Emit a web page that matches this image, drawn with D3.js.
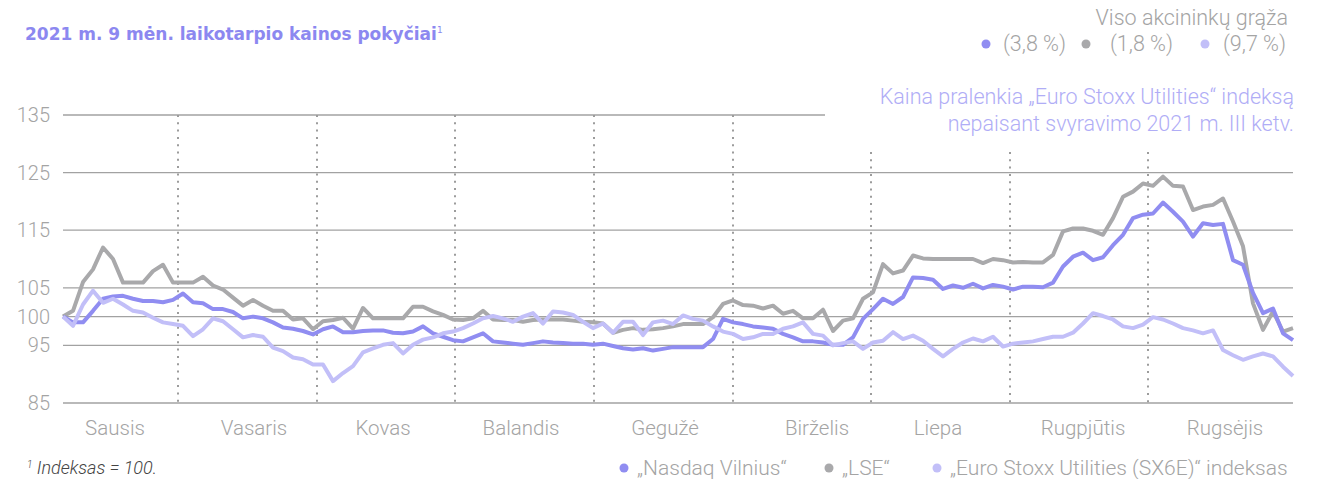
<!DOCTYPE html>
<html>
<head>
<meta charset="utf-8">
<script src="https://cdn.jsdelivr.net/npm/d3@7"></script>
<style>
  body { margin: 0; background: #fff; }
  text { font-family: Roboto, "Liberation Sans", sans-serif; }
</style>
</head>
<body>
<svg></svg>
<script>
margin = ({top: 115, right: 26, bottom: 76, left: 63})

var width = 1319
var height = 479

// index values (start = 100), one point every few trading days
const nasdaq = [
  100, 99, 99, 101, 103.1, 103.5, 103.6, 103.1, 102.7, 102.7,
  102.5, 102.9, 104, 102.5, 102.3, 101.3, 101.3, 100.8, 99.7, 100,
  99.7, 99, 98.1, 97.9, 97.5, 96.9, 97.8, 98.3, 97.3, 97.3,
  97.5, 97.6, 97.6, 97.2, 97.1, 97.4, 98.3, 97.1, 96.5, 95.9,
  95.7, 96.4, 97.1, 95.7, 95.5, 95.3, 95.1, 95.4, 95.7, 95.5,
  95.4, 95.3, 95.3, 95.1, 95.3, 94.9, 94.5, 94.3, 94.5, 94.1,
  94.4, 94.7, 94.7, 94.7, 94.7, 96.1, 99.6, 99, 98.7, 98.3,
  98.1, 97.9, 97, 96.4, 95.7, 95.7, 95.5, 95.1, 95.1, 96.4,
  99.6, 101.3, 103.1, 102.2, 103.4, 106.8, 106.7, 106.4, 104.8, 105.4,
  105, 105.7, 104.9, 105.5, 105.2, 104.7, 105.2, 105.2, 105.1, 105.9,
  108.7, 110.4, 111.1, 109.8, 110.3, 112.4, 114.2, 117.1, 117.7, 117.9,
  119.8, 118.2, 116.5, 113.9, 116.2, 115.9, 116.1, 109.8, 109, 104.1,
  100.6, 101.4, 97.1, 95.9
]

const lse = [
  100, 101, 106, 108.2, 112, 110, 105.9, 105.9, 105.9, 107.9,
  109, 105.9, 105.9, 105.9, 106.9, 105.4, 104.7, 103.3, 101.9, 102.9,
  101.9, 101, 101, 99.5, 99.7, 97.8, 99.2, 99.4, 99.8, 97.9,
  101.5, 99.7, 99.7, 99.7, 99.7, 101.7, 101.7, 100.9, 100.3, 99.5,
  99.4, 99.7, 101, 99.5, 99.4, 99.4, 99.1, 99.4, 99.5, 99.5,
  99.5, 99.3, 99.1, 99, 98.8, 97.2, 97.7, 98, 97.7, 97.8,
  98, 98.3, 98.7, 98.7, 98.7, 99.9, 102.2, 102.8, 102, 101.9,
  101.4, 101.9, 100.5, 101, 99.7, 99.7, 101.2, 97.5, 99.3, 99.7,
  103.1, 104.2, 109.1, 107.5, 108, 110.6, 110.1, 110, 110, 110,
  110, 110, 109.3, 110, 109.8, 109.4, 109.5, 109.4, 109.4, 110.7,
  114.8, 115.3, 115.3, 114.9, 114.2, 117.1, 120.8, 121.7, 123.1, 122.7,
  124.3, 122.7, 122.6, 118.5, 119.1, 119.4, 120.5, 116.5, 112.2, 102.3,
  97.7, 100.9, 97.4, 98
]

const sx6e = [
  100, 98.4, 102.1, 104.5, 102.4, 103.1, 102.1, 101, 100.7, 99.8,
  99, 98.7, 98.4, 96.6, 97.8, 99.7, 99.2, 97.8, 96.4, 96.8,
  96.5, 94.6, 94, 92.9, 92.6, 91.7, 91.7, 88.8, 90.2, 91.4,
  93.8, 94.5, 95.1, 95.4, 93.6, 95.1, 96, 96.4, 97.1, 97.4,
  98, 98.8, 99.7, 100.1, 99.7, 99.1, 100, 100.6, 98.8, 100.9,
  100.7, 100.3, 99.1, 98, 98.8, 97.2, 99.1, 99.1, 96.8, 99,
  99.3, 98.7, 100.2, 99.6, 99.3, 98.3, 97.4, 97, 96.1, 96.4,
  97, 97, 97.9, 98.3, 99, 97, 96.7, 95, 95.4, 95.7,
  94.4, 95.5, 95.8, 97.3, 96.1, 96.7, 95.8, 94.4, 93.1, 94.4,
  95.5, 96.2, 95.7, 96.5, 94.8, 95.3, 95.5, 95.7, 96.1, 96.5,
  96.5, 97.2, 98.8, 100.6, 100.1, 99.5, 98.3, 98, 98.6, 99.9,
  99.5, 98.8, 98, 97.6, 97.1, 97.6, 94.2, 93.3, 92.5, 93.1,
  93.6, 93.1, 91.3, 89.7
]

const yTicks = [85, 95, 100, 105, 115, 125, 135]
const months = ["Sausis", "Vasaris", "Kovas", "Balandis", "Gegužė", "Birželis", "Liepa", "Rugpjūtis", "Rugsėjis"]
// month labels and month borders, in point index units
const monthLabelPos = [5.2, 19.1, 32, 45.8, 60.2, 75.4, 87.5, 102, 116.2]
const monthBounds = [11.5, 25.4, 39.2, 53.1, 67, 80.8, 94.7, 108.5]

const seriesNames = ["„Nasdaq Vilnius“", "„LSE“", "„Euro Stoxx Utilities (SX6E)“ indeksas"]
const totalReturn = ["(3,8 %)", "(1,8 %)", "(9,7 %)"]
const colors = ["#908df1", "#a9a9ab", "#c2bff8"]

var svg = d3.select("svg")
            .attr('width', width)
            .attr('height', height);

x = d3.scaleLinear()
    .domain([0, nasdaq.length - 1])
    .range([margin.left, width - margin.right])

y = d3.scaleLinear()
    .domain([85, 135])
    .range([height - margin.bottom, margin.top])

const textGray = "#a4a4a4"

// horizontal grid (top one is short, annotation sits to its right)
svg.append("g")
  .selectAll("line")
  .data(yTicks)
  .join("line")
    .attr("x1", margin.left)
    .attr("x2", d => d === 135 ? 825 : width - margin.right)
    .attr("y1", d => y(d))
    .attr("y2", d => y(d))
    .attr("stroke", "#a2a2a2")
    .attr("stroke-width", 1.3)

svg.append("g")
  .selectAll("text")
  .data(yTicks)
  .join("text")
    .attr("x", 50)
    .attr("y", d => y(d))
    .attr("dy", "0.35em")
    .attr("text-anchor", "end")
    .attr("fill", textGray)
    .attr("font-size", 20)
    .attr("font-weight", 300)
    .text(d => d)

// dotted month borders
svg.append("g")
  .selectAll("line")
  .data(monthBounds)
  .join("line")
    .attr("x1", d => x(d))
    .attr("x2", d => x(d))
    .attr("y1", (d, i) => i > 4 ? 152 : y(135))
    .attr("y2", y(85))
    .attr("stroke", "#9c9c9c")
    .attr("stroke-width", 2)
    .attr("stroke-dasharray", "2 5.3")

svg.append("g")
  .selectAll("text")
  .data(months)
  .join("text")
    .attr("x", (d, i) => x(monthLabelPos[i]))
    .attr("y", 435)
    .attr("text-anchor", "middle")
    .attr("fill", textGray)
    .attr("font-size", 20.5)
    .attr("font-weight", 300)
    .text(d => d)

line = d3.line()
    .x((d, i) => x(i))
    .y(d => y(d))

// gray under, lavender on top
const drawOrder = [[lse, colors[1]], [nasdaq, colors[0]], [sx6e, colors[2]]]
svg.append("g")
  .selectAll("path")
  .data(drawOrder)
  .join("path")
    .attr("d", d => line(d[0]))
    .attr("fill", "none")
    .attr("stroke", d => d[1])
    .attr("stroke-width", 4)
    .attr("stroke-linejoin", "round")

// title (wider face than the rest)
const title = svg.append("text")
    .attr("x", 25)
    .attr("y", 40)
    .attr("fill", "#8c88f0")
    .style("font-family", "'DejaVu Sans', sans-serif")
    .style("font-size", "17px")
    .style("font-weight", "bold")
    .text("2021 m. 9 mėn. laikotarpio kainos pokyčiai")
title.append("tspan")
    .attr("dy", -7)
    .style("font-size", "9px")
    .style("font-weight", "normal")
    .text("1")

// total return legend, top right
svg.append("text")
    .attr("x", 1288)
    .attr("y", 25)
    .attr("text-anchor", "end")
    .attr("fill", textGray)
    .attr("font-size", 21.5)
    .attr("font-weight", 300)
    .text("Viso akcininkų grąža")

const retX = [986, 1086, 1205]
const ret = svg.append("g")
  .selectAll("g")
  .data(totalReturn)
  .join("g")
    .attr("transform", (d, i) => `translate(${retX[i]},51)`)
ret.append("circle")
    .attr("cy", -7)
    .attr("r", 4.5)
    .attr("fill", (d, i) => colors[i])
ret.append("text")
    .attr("x", (d, i) => i === 0 ? 17 : i === 1 ? 24 : 18)
    .attr("fill", textGray)
    .attr("font-size", 21.5)
    .attr("font-weight", 300)
    .text(d => d)

// annotation
svg.append("text")
    .attr("text-anchor", "end")
    .attr("fill", "#b0adf6")
    .attr("font-size", 21.5)
    .attr("font-weight", 300)
  .selectAll("tspan")
  .data(["Kaina pralenkia „Euro Stoxx Utilities“ indeksą", "nepaisant svyravimo 2021 m. III ketv."])
  .join("tspan")
    .attr("x", 1294)
    .attr("y", (d, i) => 104 + i * 27)
    .text(d => d)

// footnote
const foot = svg.append("text")
    .attr("x", 27)
    .attr("y", 474)
    .attr("fill", "#444")
    .attr("font-size", 18)
    .attr("font-style", "italic")
    .attr("font-weight", 300)
foot.append("tspan").attr("font-size", 10).attr("dy", -6).text("1")
foot.append("tspan").attr("dy", 6).text(" Indeksas = 100.")

// series legend, bottom right
const legX = [624, 829, 937]
const leg = svg.append("g")
  .selectAll("g")
  .data(seriesNames)
  .join("g")
    .attr("transform", (d, i) => `translate(${legX[i]},475)`)
leg.append("circle")
    .attr("cy", -7)
    .attr("r", 4.5)
    .attr("fill", (d, i) => colors[i])
leg.append("text")
    .attr("x", 13)
    .attr("fill", textGray)
    .attr("font-size", 21)
    .attr("font-weight", 300)
    .text(d => d)
</script>
</body>
</html>
